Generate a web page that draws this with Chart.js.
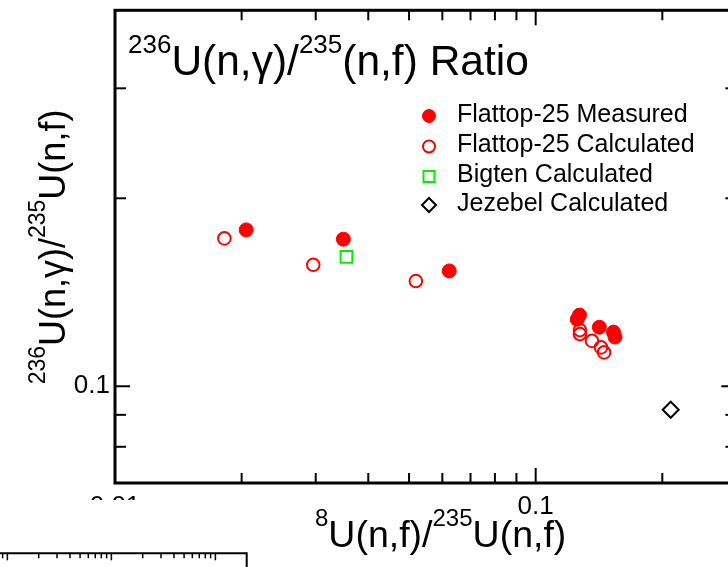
<!DOCTYPE html>
<html>
<head>
<meta charset="utf-8">
<script src="https://cdn.jsdelivr.net/npm/chart.js@4.4.1/dist/chart.umd.min.js"></script>
<style>
  html, body { margin: 0; padding: 0; background: #ffffff; overflow: hidden; width: 728px; height: 567px; }
  #wrap { position: relative; width: 728px; height: 567px; overflow: hidden; background: #ffffff; }
  #main { position: absolute; left: 0; top: 0; }
  #lower { position: absolute; left: -47px; top: 500px; }
</style>
</head>
<body>
<div id="wrap">
  <canvas id="main" width="760" height="567"></canvas>
  <canvas id="lower" width="360" height="67"></canvas>
</div>
<script>
// ---------------- data ----------------
const measuredX   = [0.0205, 0.0349, 0.0623, 0.1271, 0.1256, 0.1417, 0.1531, 0.1544];
const measuredY   = [0.178, 0.172, 0.153, 0.130, 0.128, 0.1243, 0.1221, 0.1199];
const calculatedX = [0.0182, 0.0296, 0.0519, 0.1274, 0.1274, 0.1361, 0.1430, 0.1454];
const calculatedY = [0.1725, 0.1565, 0.1474, 0.1230, 0.1212, 0.1182, 0.1154, 0.1133];
const bigtenX  = [0.0355];
const bigtenY  = [0.1612];
const jezebelX = [0.2094];
const jezebelY = [0.0917];

const seriesLabels = ['Flattop-25 Measured', 'Flattop-25 Calculated', 'Bigten Calculated', 'Jezebel Calculated'];

// axis ticks
const xMajorTicks = [0.01, 0.1];
const xTickLabels = ['0.01', '0.1'];
const xMinorTicks = [0.02, 0.03, 0.04, 0.05, 0.06, 0.07, 0.08, 0.09, 0.2];
const yMajorTicks = [0.1];
const yTickLabels = ['0.1'];
const yMinorTicks = [0.08, 0.09, 0.2, 0.3];

// lower (cropped) panel ticks
const lowMajorTicks = [0.001, 0.01, 0.1];
const lowMinorTicks = [0.0004, 0.0005, 0.0006, 0.0007, 0.0008, 0.0009,
  0.002, 0.003, 0.004, 0.005, 0.006, 0.007, 0.008, 0.009,
  0.02, 0.03, 0.04, 0.05, 0.06, 0.07, 0.08, 0.09];

// texts
const titleParts  = [{t: '236', sup: true}, {t: 'U(n,\u03b3)/'}, {t: '235', sup: true}, {t: '(n,f) Ratio'}];
const xTitleParts = [{t: '8', sup: true}, {t: 'U(n,f)/'}, {t: '235', sup: true}, {t: 'U(n,f)'}];
const yTitleParts = [{t: '236', sup: true}, {t: 'U(n,\u03b3)/'}, {t: '235', sup: true}, {t: 'U(n,f)'}];

const FONT = '"Liberation Sans", Arial, Helvetica, sans-serif';

function pts(xs, ys) { return xs.map((x, i) => ({x: x, y: ys[i]})); }

function richWidth(ctx, parts, main, sup) {
  let w = 0;
  for (const p of parts) {
    ctx.font = (p.sup ? sup : main) + 'px ' + FONT;
    w += ctx.measureText(p.t).width;
  }
  return w;
}
function drawRich(ctx, parts, x, y, main, sup, supShift) {
  let cx = x;
  ctx.textBaseline = 'alphabetic';
  ctx.textAlign = 'left';
  ctx.fillStyle = '#000';
  for (const p of parts) {
    ctx.font = (p.sup ? sup : main) + 'px ' + FONT;
    ctx.fillText(p.t, cx, p.sup ? y - supShift : y);
    cx += ctx.measureText(p.t).width;
  }
}

function drawSymbol(ctx, style, x, y) {
  ctx.save();
  ctx.beginPath();
  ctx.lineWidth = style.bw;
  ctx.strokeStyle = style.stroke;
  ctx.fillStyle = style.fill;
  if (style.shape === 'circle') {
    ctx.arc(x, y, style.r, 0, Math.PI * 2);
  } else if (style.shape === 'square') {
    ctx.rect(x - style.r, y - style.r, style.r * 2, style.r * 2);
  } else {
    ctx.moveTo(x - style.r, y); ctx.lineTo(x, y - style.r);
    ctx.lineTo(x + style.r, y); ctx.lineTo(x, y + style.r);
    ctx.closePath();
  }
  if (style.fill !== 'none') ctx.fill();
  ctx.stroke();
  ctx.restore();
}

const legendStyles = [
  {shape: 'circle', r: 6.5, fill: '#ff0000', stroke: '#ff0000', bw: 1},
  {shape: 'circle', r: 6, fill: 'none', stroke: '#ff0000', bw: 2},
  {shape: 'square', r: 5.5, fill: 'none', stroke: '#00ee00', bw: 2},
  {shape: 'diamond', r: 7, fill: 'none', stroke: '#000000', bw: 2}
];

const framePlugin = {
  id: 'frame',
  afterDraw(chart) {
    const ctx = chart.ctx;
    const {left, right, top, bottom} = chart.chartArea;
    const xs = chart.scales.x, ys = chart.scales.y;
    ctx.save();
    ctx.strokeStyle = '#000';
    // inward tick marks on all four sides
    ctx.lineWidth = 2;
    const tick = (v, len, horiz) => {
      if (horiz) {
        const px = xs.getPixelForValue(v);
        ctx.beginPath(); ctx.moveTo(px, bottom); ctx.lineTo(px, bottom - len); ctx.stroke();
        ctx.beginPath(); ctx.moveTo(px, top); ctx.lineTo(px, top + len); ctx.stroke();
      } else {
        const py = ys.getPixelForValue(v);
        ctx.beginPath(); ctx.moveTo(left, py); ctx.lineTo(left + len, py); ctx.stroke();
        ctx.beginPath(); ctx.moveTo(right, py); ctx.lineTo(right - len, py); ctx.stroke();
      }
    };
    xMinorTicks.forEach(v => tick(v, 10, true));
    xMajorTicks.forEach(v => tick(v, 15, true));
    yMinorTicks.forEach(v => tick(v, 11, false));
    yMajorTicks.forEach(v => tick(v, 15, false));
    // frame
    ctx.lineWidth = 3;
    ctx.strokeRect(left, top, right - left, bottom - top);

    // title inside plot
    drawRich(ctx, titleParts, 128, 75, 42.5, 26, 22);

    // legend
    const lx = 429, tx = 457, rows = [116, 146.5, 176.5, 205];
    seriesLabels.forEach((lab, i) => {
      drawSymbol(ctx, legendStyles[i], lx, rows[i]);
      ctx.font = '25px ' + FONT;
      ctx.fillStyle = '#000';
      ctx.textAlign = 'left';
      ctx.textBaseline = 'middle';
      ctx.fillText(lab, tx, rows[i] - 1);
    });

    // x axis title
    drawRich(ctx, xTitleParts, 315, 547, 37.5, 24, 21);

    // y axis title (rotated)
    const yw = richWidth(ctx, yTitleParts, 36, 23);
    ctx.translate(65, 247);
    ctx.rotate(-Math.PI / 2);
    drawRich(ctx, yTitleParts, -yw / 2, 0, 36, 23, 20);
    ctx.restore();
  }
};

new Chart(document.getElementById('main'), {
  type: 'scatter',
  data: {
    datasets: [
      {label: seriesLabels[0], data: pts(measuredX, measuredY), pointStyle: 'circle', pointRadius: 7,
       backgroundColor: '#ff0000', borderColor: '#ff0000', borderWidth: 1},
      {label: seriesLabels[1], data: pts(calculatedX, calculatedY), pointStyle: 'circle', pointRadius: 6.3,
       backgroundColor: 'rgba(0,0,0,0)', borderColor: '#ff0000', borderWidth: 2},
      {label: seriesLabels[2], data: pts(bigtenX, bigtenY), pointStyle: 'rect', pointRadius: 8.3,
       backgroundColor: 'rgba(0,0,0,0)', borderColor: '#00ee00', borderWidth: 2},
      {label: seriesLabels[3], data: pts(jezebelX, jezebelY), pointStyle: 'rectRot', pointRadius: 8,
       backgroundColor: 'rgba(0,0,0,0)', borderColor: '#000000', borderWidth: 2}
    ]
  },
  options: {
    responsive: false,
    animation: false,
    devicePixelRatio: 1,
    layout: {padding: {top: 10, right: 23.6, left: 0, bottom: 0}},
    plugins: {legend: {display: false}, tooltip: {enabled: false}},
    scales: {
      x: {
        type: 'logarithmic', position: 'bottom', min: 0.01, max: 0.3,
        grid: {display: false, drawTicks: false}, border: {display: false},
        ticks: {color: '#000', font: {family: FONT, size: 26}, padding: 8, maxRotation: 0, autoSkip: false,
                callback: (v, i) => xTickLabels[i]},
        afterBuildTicks: s => { s.ticks = xMajorTicks.map(v => ({value: v})); },
        afterFit: s => { s.height = 84; s.paddingLeft = 0; s.paddingRight = 0; }
      },
      y: {
        type: 'logarithmic', position: 'left', min: 0.07, max: 0.4,
        grid: {display: false, drawTicks: false}, border: {display: false},
        ticks: {color: '#000', font: {family: FONT, size: 26}, padding: 5, autoSkip: false,
                callback: (v, i) => yTickLabels[i]},
        afterBuildTicks: s => { s.ticks = yMajorTicks.map(v => ({value: v})); },
        afterFit: s => { s.width = 115; s.paddingTop = 0; s.paddingBottom = 0; }
      }
    }
  },
  plugins: [framePlugin]
});

// lower, cropped neighbouring panel (only its top edge is visible)
const lowerPlugin = {
  id: 'lowerFrame',
  beforeDraw(chart) {
    const ctx = chart.ctx;
    ctx.save();
    ctx.fillStyle = '#ffffff';
    ctx.fillRect(0, 0, chart.width, chart.height);
    ctx.restore();
  },
  afterDraw(chart) {
    const ctx = chart.ctx;
    const {left, right, top, bottom} = chart.chartArea;
    const xs = chart.scales.x;
    ctx.save();
    ctx.strokeStyle = '#000';
    ctx.lineWidth = 1.5;
    lowMinorTicks.forEach(v => {
      const px = xs.getPixelForValue(v);
      ctx.beginPath(); ctx.moveTo(px, top); ctx.lineTo(px, top + 5); ctx.stroke();
    });
    lowMajorTicks.forEach(v => {
      const px = xs.getPixelForValue(v);
      ctx.beginPath(); ctx.moveTo(px, top); ctx.lineTo(px, top + 7); ctx.stroke();
    });
    ctx.lineWidth = 2;
    ctx.beginPath();
    ctx.moveTo(left, top); ctx.lineTo(right, top); ctx.lineTo(right, bottom + 5);
    ctx.stroke();
    ctx.restore();
  }
};

new Chart(document.getElementById('lower'), {
  type: 'scatter',
  data: {datasets: [{data: []}]},
  options: {
    responsive: false,
    animation: false,
    devicePixelRatio: 1,
    layout: {padding: {top: 53.3, right: 66.3, left: 0, bottom: 0}},
    plugins: {legend: {display: false}, tooltip: {enabled: false}},
    scales: {
      x: {type: 'logarithmic', min: 0.0003, max: 0.2, display: false},
      y: {type: 'linear', min: 0, max: 1, display: false}
    }
  },
  plugins: [lowerPlugin]
});
</script>
</body>
</html>
